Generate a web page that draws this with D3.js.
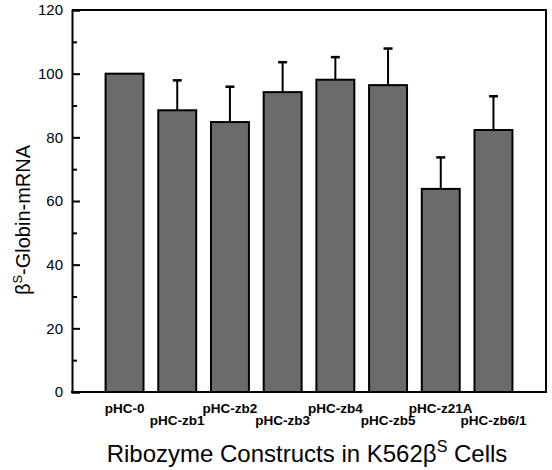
<!DOCTYPE html>
<html><head><meta charset="utf-8">
<script src="https://cdn.jsdelivr.net/npm/d3@7"></script>
<style>
html,body{margin:0;padding:0;background:#fff;}
svg{display:block;font-family:"Liberation Sans",Arial,Helvetica,sans-serif;}
</style></head>
<body><svg id="c" width="552" height="470"></svg>
<script>
const categories = ["pHC-0","pHC-zb1","pHC-zb2","pHC-zb3","pHC-zb4","pHC-zb5","pHC-z21A","pHC-zb6/1"];
const values = [100, 88.5, 84.8, 94.2, 98.1, 96.4, 63.8, 82.3];
const errors = [0, 9.4, 11.1, 9.4, 7.1, 11.5, 9.9, 10.6];
const yTicks = [0,20,40,60,80,100,120];
const yMinorTicks = [10,30,50,70,90,110];

const svg = d3.select("#c");
const L = 72, R = 546, T = 10, B = 392;

const x = d3.scaleBand().domain(categories).range([L, R]).paddingInner(0.28).paddingOuter(0.637);
const y = d3.scaleLinear().domain([0,120]).range([B, T]);

// bars
svg.append("g").selectAll("rect").data(categories).join("rect")
  .attr("x", d => x(d)).attr("width", x.bandwidth())
  .attr("y", (d,i) => y(values[i])).attr("height", (d,i) => y(0) - y(values[i]))
  .attr("fill", "#6b6b6b").attr("stroke", "#000").attr("stroke-width", 2);

// error bars (upper)
const eg = svg.append("g").attr("stroke", "#000");
categories.forEach((c,i) => {
  if (!errors[i]) return;
  const cx = x(c) + x.bandwidth()/2;
  eg.append("line").attr("x1", cx).attr("x2", cx).attr("y1", y(values[i])).attr("y2", y(values[i]+errors[i])).attr("stroke-width", 2);
  eg.append("line").attr("x1", cx-4.5).attr("x2", cx+4.5).attr("y1", y(values[i]+errors[i])).attr("y2", y(values[i]+errors[i])).attr("stroke-width", 2.5);
});

// frame top/right
svg.append("path").attr("d", `M${L},${T}H${R}V${B}`).attr("fill","none").attr("stroke","#000").attr("stroke-width",2);

// y axis
const ya = svg.append("g").attr("transform", `translate(${L},0)`)
  .call(d3.axisLeft(y).tickValues(yTicks).tickSize(-8).tickPadding(9).tickFormat(d3.format("d")));
ya.select(".domain").attr("stroke-width", 2);
ya.selectAll(".tick line").attr("stroke-width", 2);
ya.selectAll("text").attr("font-size", 15).attr("fill", "#000").attr("font-family", "Liberation Sans, Arial, sans-serif");
const ym = svg.append("g").attr("transform", `translate(${L},0)`)
  .call(d3.axisLeft(y).tickValues(yMinorTicks).tickSize(-5).tickFormat(""));
ym.select(".domain").remove();
ym.selectAll(".tick line").attr("stroke-width", 2);

// x axis line
const xa = svg.append("g").attr("transform", `translate(0,${B})`)
  .call(d3.axisBottom(x).tickSize(0).tickFormat(""));
xa.select(".domain").attr("d", `M${L-1},0H${R+1}`).attr("stroke-width", 2);

// category labels, staggered
svg.append("g").selectAll("text").data(categories).join("text")
  .attr("x", d => x(d) + x.bandwidth()/2)
  .attr("y", (d,i) => i % 2 === 0 ? 413 : 425)
  .attr("text-anchor", "middle").attr("font-size", 13.5).attr("font-weight", "bold")
  .text(d => d);

// x title
const xt = svg.append("text").attr("x", (L+R)/2 - 2).attr("y", 462).attr("text-anchor","middle").attr("font-size", 24);
xt.append("tspan").text("Ribozyme Constructs in K562β");
xt.append("tspan").attr("font-size", 16).attr("dy", -10).text("S");
xt.append("tspan").attr("dy", 10).text(" Cells");

// y title
const yt = svg.append("text").attr("transform", `translate(30,220) rotate(-90)`).attr("text-anchor","middle").attr("font-size", 20);
yt.append("tspan").text("β");
yt.append("tspan").attr("font-size", 13).attr("dy", -8).text("S");
yt.append("tspan").attr("dy", 8).text("-Globin-mRNA");
</script></body></html>
